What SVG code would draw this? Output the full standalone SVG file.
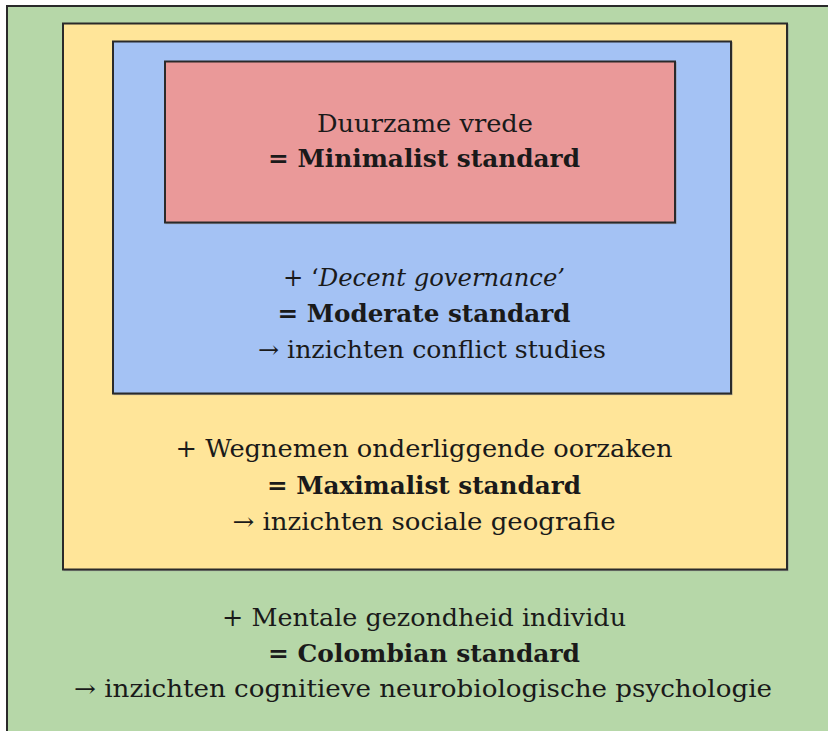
<svg xmlns="http://www.w3.org/2000/svg" width="828" height="731" viewBox="0 0 828 731">
<style>
.box{stroke:#2a2a2a;stroke-width:2}
.sh{fill:none;stroke:#8a8a8a;stroke-width:1.2;opacity:0.7}
text{font-family:"DejaVu Serif","Liberation Serif",serif;font-size:24px;fill:#1a1a1a;text-anchor:middle}
.b{font-weight:bold}
.i{font-style:italic}
</style>
<g id="colombian">
<rect class="sh" x="8" y="7" width="830" height="740"/>
<rect class="box" x="7" y="6" width="830" height="740" fill="#b6d7a8"/>
<text x="424" y="626" textLength="404" lengthAdjust="spacingAndGlyphs">+ Mentale gezondheid individu</text>
<text class="b" x="424" y="662" textLength="312" lengthAdjust="spacingAndGlyphs">= Colombian standard</text>
<text x="423" y="697" textLength="698" lengthAdjust="spacingAndGlyphs">→ inzichten cognitieve neurobiologische psychologie</text>
</g>
<g id="maximalist">
<rect class="sh" x="64" y="24.5" width="724" height="546"/>
<rect class="box" x="63" y="23.5" width="724" height="546" fill="#ffe599"/>
<text x="424" y="457" textLength="497" lengthAdjust="spacingAndGlyphs">+ Wegnemen onderliggende oorzaken</text>
<text class="b" x="424" y="494" textLength="314" lengthAdjust="spacingAndGlyphs">= Maximalist standard</text>
<text x="424" y="530" textLength="383" lengthAdjust="spacingAndGlyphs">→ inzichten sociale geografie</text>
</g>
<g id="moderate">
<rect class="sh" x="114" y="42.5" width="618" height="352"/>
<rect class="box" x="113" y="41.5" width="618" height="352" fill="#a4c2f4"/>
<text x="424" y="286" textLength="282" lengthAdjust="spacingAndGlyphs">+ ‘<tspan class="i">Decent governance’</tspan></text>
<text class="b" x="424" y="322" textLength="293" lengthAdjust="spacingAndGlyphs">= Moderate standard</text>
<text x="432" y="358" textLength="348" lengthAdjust="spacingAndGlyphs">→ inzichten conflict studies</text>
</g>
<g id="minimalist">
<rect class="sh" x="166" y="62.5" width="510" height="161"/>
<rect class="box" x="165" y="61.5" width="510" height="161" fill="#ea9999"/>
<text x="425" y="132" textLength="216" lengthAdjust="spacingAndGlyphs">Duurzame vrede</text>
<text class="b" x="424" y="167" textLength="312" lengthAdjust="spacingAndGlyphs">= Minimalist standard</text>
</g>
<g id="connectors"></g>
</svg>
